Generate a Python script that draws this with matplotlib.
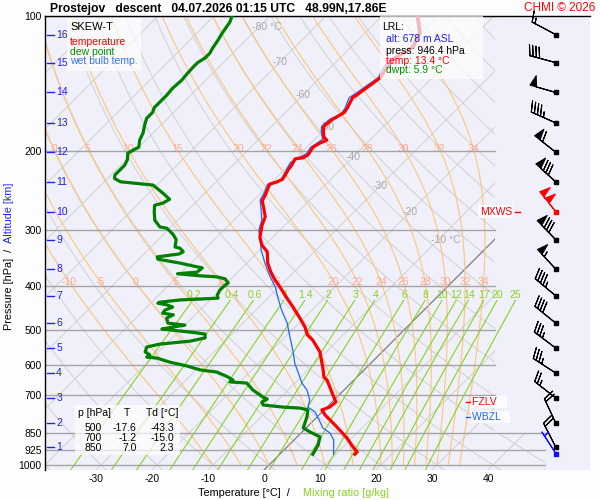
import numpy as np
import matplotlib
matplotlib.use("Agg")
import matplotlib.pyplot as plt
import matplotlib.transforms as mtransforms
from matplotlib.patches import Rectangle, Polygon

plt.rcParams['font.family'] = ['Liberation Sans', 'DejaVu Sans']

# ---- sounding ----
temp_p = [100, 109, 117, 121, 125, 132, 137, 141, 145, 150, 152, 160, 164, 166, 170, 176, 179,
          186, 189, 192, 196, 204, 207, 208, 215, 220, 226, 231, 234, 237, 242, 250, 258, 266,
          280, 292, 311, 324, 335, 355, 372, 387, 403, 425, 445, 471, 493, 513, 527, 560, 593,
          605, 637, 647, 691, 724, 743, 754, 774, 806, 836, 871, 912, 935, 946.4]
temp_t = [-53.6, -50.2, -48.9, -49.6, -50.2, -49.8, -49.3, -49.6, -50.0, -50.4, -50.7, -49.8,
          -49.5, -49.8, -50.4, -50.7, -50.2, -48.8, -47.7, -48.4, -48.9, -48.4, -48.8, -50.0,
          -49.5, -49.3, -48.9, -48.6, -49.1, -50.0, -49.6, -48.9, -48.4, -47.1, -45.0, -44.1,
          -42.3, -40.5, -38.4, -36.3, -34.1, -32.0, -29.6, -26.6, -23.9, -20.7, -18.2, -16.4,
          -14.5, -11.1, -8.75, -7.9, -5.9, -4.8, -1.6, 0.7, 0.5, -0.4, 1.1, 3.9, 6.4, 9.1,
          11.8, 13.4, 13.4]

wb_p = [100, 109, 117, 121, 125, 132, 137, 142, 145, 149, 152, 160, 165, 170, 176, 181, 188,
        192, 196, 203, 206, 212, 220, 232, 237, 247, 257, 270, 285, 300, 315, 332, 355, 381,
        401, 423, 452, 483, 519, 555, 593, 637, 657, 681, 717, 743, 762, 786, 827, 849, 880,
        946.4]
wb_t = [-53.9, -50.5, -49.3, -50.0, -50.7, -50.4, -49.6, -50.2, -50.5, -50.9, -51.3, -50.2,
        -49.8, -50.9, -51.1, -50.2, -48.6, -48.9, -49.3, -48.9, -49.5, -50.2, -49.6, -48.8,
        -50.4, -49.5, -48.9, -47.0, -45.0, -43.75, -41.8, -39.8, -36.8, -33.4, -30.7, -28.4,
        -25.4, -22.1, -19.1, -16.25, -13.6, -10.2, -8.75, -6.6, -4.3, -3.4, -1.25, 0.4, 3.0,
        5.2, 7.1, 9.6]

dp_p = [100, 103, 109, 113, 118, 121, 124, 127, 130, 134, 139, 145, 150, 155, 160, 164, 169,
        175, 182, 189, 196, 199, 202, 209, 215, 220, 226, 230, 234, 236, 238, 248, 256, 261,
        264, 273, 285, 295, 297, 307, 315, 327, 329, 335, 339, 341, 344, 348, 355, 362, 364,
        372, 375, 379, 381, 385, 393, 401, 408, 418, 425, 427, 429, 434, 436, 440, 445, 452,
        459, 463, 471, 483, 488, 493, 498, 503, 508, 511, 521, 530, 538, 546, 560, 569, 575,
        578, 590, 602, 614, 621, 637, 647, 653, 657, 681, 691, 706, 713, 724, 735, 743, 747,
        754, 782, 827, 844, 866, 903, 946.4]
dp_t = [-86.8, -86.1, -85.5, -85.0, -84.5, -84.1, -84.1, -84.6, -84.6, -84.5, -84.3, -84.5,
        -84.3, -84.3, -84.3, -83.75, -83.75, -82.9, -81.8, -81.1, -80.0, -80.5, -80.9, -79.8,
        -79.3, -79.3, -79.3, -78.75, -77.1, -73.9, -70.7, -67.5, -65.2, -65.7, -66.8, -65.7,
        -64.1, -62.0, -60.5, -58.2, -56.8, -55.7, -54.6, -53.4, -53.75, -55.2, -57.1, -56.6,
        -52.0, -48.2, -47.1, -47.3, -50.5, -46.1, -42.9, -41.1, -39.8, -40.0, -40.0, -39.6,
        -38.9, -42.0, -45.4, -48.6, -48.75, -46.8, -45.4, -46.25, -46.1, -43.9, -44.5, -43.4,
        -40.0, -41.8, -43.4, -39.8, -36.4, -34.8, -34.1, -36.25, -41.1, -42.9, -42.3, -40.9,
        -41.1, -39.1, -36.1, -32.3, -29.3, -25.9, -23.0, -21.6, -21.8, -18.6, -16.25, -15.0,
        -13.2, -12.1, -12.5, -11.8, -7.9, -4.6, -2.9, -1.8, -0.5, 1.4, 4.1, 5.2, 5.9]

# altitude marks (km) and the wind at each of them
alt_km = list(range(1, 17))
alt_p = [912, 806, 709, 624, 549, 483, 420, 366, 315, 273, 234, 201, 173, 148, 127, 110]
wind_dir = [333, 335, 308, 303, 307, 309, 310, 317, 316, 321, 312, 308, 294, 286, 285, 298]
wind_kt = [20, 20, 25, 35, 35, 40, 45, 55, 80, 100, 80, 60, 45, 50, 40, 15]
mxws_km = 10
sfc_p, sfc_dir, sfc_kt = 946.4, 327, 5

lrl_alt, lrl_p, lrl_t, lrl_td = 678, 946.4, 13.4, 5.9
fzlv_p, wbzl_p = 724, 782

table_p = [500, 700, 850]
table_t = [-17.6, -1.2, 7.0]
table_td = [-43.3, -15.0, 2.3]

p_levels = [100, 200, 300, 400, 500, 600, 700, 850, 925, 1000]
t_ticks = [-30, -20, -10, 0, 10, 20, 30, 40]
iso_lab_t = [-80, -70, -60, -50, -40, -30, -20, -10]
iso_lab_p = [105.8, 126.6, 150, 177, 206, 239, 273, 315]
thw_lines = [-10, -5, 0, 5, 10, 15, 20, 22, 24, 26, 28, 30, 32, 34]
thw_lab_p = [198, 391]
mix_lines = [0.2, 0.4, 0.6, 1, 1.4, 2, 3, 4, 6, 8, 10, 12, 14, 17, 20, 25]
mix_top, mix_lab_p = 430, 418

station = 'Prostejov'
kind = 'descent'
when = '04.07.2026 01:15 UTC'
where = '48.99N,17.86E'

# ---- diagram geometry ----
P_REF, P_TOP = 1026.0, 100.0
SKEW = 195.0 / 5.6
X_MIN, X_MAX = -39.1, 58.2
X_DIAG, X_LOW = 41.25, 50.2

GRAY = '#d4d4d4'
ORANGE = '#ffc47c'
SALMON = '#ffa88c'
MIXG = '#86d41e'
BLUE = '#2020f0'


def sx(t, p):
    return np.asarray(t, float) + SKEW * np.log(P_REF / np.asarray(p, float))


def dtdlnp(T, p):
    es = 6.112 * np.exp(17.67 * (T - 273.15) / (T - 29.65))
    rs = 0.622 * es / (p - es)
    return (287.04 * T + 2.501e6 * rs) / (1005.7 + 2.501e6 ** 2 * rs * 0.622 / (287.04 * T ** 2))


def moist_adiabat(thw, p):
    lp = np.log(p)
    out = [thw + 273.15]
    for i in range(len(p) - 1):
        T, a, h = out[-1], lp[i], lp[i + 1] - lp[i]
        k1 = dtdlnp(T, np.exp(a))
        k2 = dtdlnp(T + h * k1 / 2, np.exp(a + h / 2))
        k3 = dtdlnp(T + h * k2 / 2, np.exp(a + h / 2))
        k4 = dtdlnp(T + h * k3, np.exp(a + h))
        out.append(T + h * (k1 + 2 * k2 + 2 * k3 + k4) / 6)
    return np.array(out) - 273.15


def mix_td(w, p):
    a = np.log(w * p / (622.0 + w) / 6.112)
    return 243.5 * a / (17.67 - a)


fig = plt.figure(figsize=(6, 5), dpi=100, facecolor='#fdfdfd')
ax = fig.add_axes([45 / 600, 30 / 500, 545 / 600, 454 / 500])
ax.set_facecolor('#f0f0fb')
ax.set_yscale('log')
ax.set_ylim(P_REF, P_TOP)
ax.set_xlim(X_MIN, X_MAX)
for s in ['bottom', 'right']:
    ax.spines[s].set_visible(False)
for s in ['top', 'left']:
    ax.spines[s].set_linewidth(1.0)

ax.yaxis.set_minor_locator(matplotlib.ticker.NullLocator())
ax.set_yticks(p_levels)
ax.set_yticklabels([str(p) for p in p_levels])
ax.set_xticks(t_ticks)
ax.set_xticklabels([str(t) for t in t_ticks])
ax.tick_params(axis='y', length=0, pad=2.5, labelsize=7.5)
ax.tick_params(axis='x', length=0, pad=3, labelsize=7.5)

clip = Polygon([(X_MIN, P_TOP), (X_DIAG, P_TOP), (X_DIAG, 850), (X_LOW, 850),
                (X_LOW, P_REF), (X_MIN, P_REF)], closed=True, transform=ax.transData,
               facecolor='none', edgecolor='none')

pp = np.geomspace(P_REF, P_TOP, 80)

# isotherms
for t in range(-160, 60, 10):
    ln, = ax.plot(sx([t, t], [P_REF, P_TOP]), [P_REF, P_TOP],
                  color='#6e6e6e' if t == 0 else GRAY, lw=0.8, zorder=1.2 if t == 0 else 1)
    ln.set_clip_path(clip)
for t, p in zip(iso_lab_t, iso_lab_p):
    lab = '%d °C' % t if t in (-80, -10) else '%d' % t
    x = sx(t, p) - (1.3 if '°' in lab else 0)
    ax.text(x, p, lab, color='#a8a8a8', fontsize=7.5, ha='left' if '°' in lab else 'center',
            va='center', zorder=1.5)

# dry adiabats
for th in range(-40, 200, 10):
    ln, = ax.plot(sx((th + 273.15) * (pp / 1000.0) ** 0.2857 - 273.15, pp), pp,
                  color=GRAY, lw=0.8, zorder=1)
    ln.set_clip_path(clip)

# saturated adiabats
pm = np.geomspace(1000, P_TOP, 160)
for thw in thw_lines:
    tm = moist_adiabat(thw, pm)
    ln, = ax.plot(sx(tm, pm), pm, color=ORANGE, lw=0.8, zorder=1.3)
    ln.set_clip_path(clip)
    for pl in thw_lab_p:
        x = np.interp(np.log(pl), np.log(pm[::-1]), sx(tm, pm)[::-1])
        if X_MIN + 0.8 < x < X_DIAG:
            ax.text(x, pl, '%d' % thw, color=SALMON, fontsize=7.5, ha='center',
                    va='center', zorder=1.6)

# mixing ratio lines
pw = np.geomspace(P_REF, mix_top, 30)
for w in mix_lines:
    ax.plot(sx(mix_td(w, pw), pw), pw, color=MIXG, lw=0.8, zorder=1.4)
    ax.text(sx(mix_td(w, mix_lab_p), mix_lab_p) - 0.5, mix_lab_p, '%g' % w, color=MIXG,
            fontsize=7.5, ha='center', va='center', zorder=1.6)

# pressure lines
for p in p_levels:
    xr = X_LOW if p >= 850 else X_DIAG
    ax.plot([X_MIN, xr], [p, p], color='#a4a4a4', lw=1.0, zorder=2)

# profiles
ax.plot(sx(wb_t, wb_p), wb_p, color='#1f66ff', lw=0.9, zorder=5)
ax.plot(sx(dp_t, dp_p), dp_p, color='#008000', lw=2.3, zorder=6, solid_joinstyle='round')
ax.plot(sx(temp_t, temp_p), temp_p, color='#ff0000', lw=2.3, zorder=7, solid_joinstyle='round')

# altitude scale
blend = mtransforms.blended_transform_factory(ax.transAxes, ax.transData)
for km, p in zip(alt_km, alt_p):
    ax.plot([0.004, 0.0165], [p, p], color=BLUE, lw=1.0, transform=blend, zorder=8)
    ax.text(0.0205, p, str(km), color=BLUE, fontsize=7.5, va='center', ha='left',
            transform=blend, zorder=8)

# winds
bx = (555.7 - 45) / 545
wd = np.radians(wind_dir)
u = -np.array(wind_kt) * np.sin(wd)
v = -np.array(wind_kt) * np.cos(wd)
blk = [i for i, k in enumerate(alt_km) if k != mxws_km]
mx = alt_km.index(mxws_km)
ax.barbs([bx] * len(blk), [alt_p[i] for i in blk], u[blk], v[blk], transform=blend,
         length=6.2, lw=0.8, color='black', zorder=8, clip_on=False)
ax.barbs([bx], [alt_p[mx]], [u[mx]], [v[mx]], transform=blend, length=6.2, lw=0.8,
         color='red', zorder=8, clip_on=False)
sd = np.radians(sfc_dir)
ax.barbs([bx], [sfc_p], [-sfc_kt * np.sin(sd)], [-sfc_kt * np.cos(sd)], transform=blend,
         length=6.2, lw=0.8, color='#1010ff', zorder=8, clip_on=False)
ax.plot([bx] * len(blk), [alt_p[i] for i in blk], 's', color='black', ms=2.6,
        transform=blend, zorder=9)
ax.plot([bx], [alt_p[mx]], 's', color='red', ms=2.6, transform=blend, zorder=9)
ax.plot([bx], [sfc_p], 's', color='#1010ff', ms=2.6, transform=blend, zorder=9)

# level markers
ax.plot([0.8624, 0.8716], [alt_p[mx]] * 2, color='red', lw=1.0, transform=blend, zorder=9)
ax.text(0.857, alt_p[mx], 'MXWS', color='red', fontsize=7.5, ha='right', va='center',
        transform=blend, zorder=9,
        bbox=dict(facecolor='white', edgecolor='none', alpha=0.85, pad=1.0))
for p, name, col in [(fzlv_p, 'FZLV', 'red'), (wbzl_p, 'WBZL', '#1f66ff')]:
    ax.plot([0.7725, 0.7817], [p, p], color=col, lw=1.0, transform=blend, zorder=9)
    ax.text(0.7835, p, name + '   ', color=col, fontsize=7.5, ha='left', va='center',
            transform=blend, zorder=9,
            bbox=dict(facecolor='white', edgecolor='none', alpha=0.85, pad=1.0))


# ---- boxes and texts in figure pixels ----
def fx(x):
    return x / 600.0


def fy(y):
    return 1 - y / 500.0


def box(x0, y0, x1, y1, alpha):
    fig.add_artist(Rectangle((fx(x0), fy(y1)), (x1 - x0) / 600.0, (y1 - y0) / 500.0,
                             transform=fig.transFigure, facecolor='white', edgecolor='none',
                             alpha=alpha, zorder=1))


box(67, 18, 141, 71, 0.7)
box(380, 16, 483, 79, 0.7)
box(75, 405, 180, 455, 0.7)

fig.text(fx(70), fy(27), 'SKEW-T', fontsize=8, va='center')
fig.text(fx(70), fy(42), 'temperature', fontsize=7.5, va='center', color='#ff0000')
fig.text(fx(70), fy(52), 'dew point', fontsize=7.5, va='center', color='#009000')
fig.text(fx(70), fy(61.5), 'wet bulb temp.', fontsize=7.5, va='center', color='#2f74ff')

fig.text(fx(382), fy(27), 'LRL:', fontsize=7.5, va='center')
fig.text(fx(386), fy(39.5), 'alt: %d m ASL' % lrl_alt, fontsize=7.5, va='center', color=BLUE)
fig.text(fx(386), fy(50.5), 'press: %.1f hPa' % lrl_p, fontsize=7.5, va='center')
fig.text(fx(386), fy(60.5), 'temp: %.1f °C' % lrl_t, fontsize=7.5, va='center', color='red')
fig.text(fx(386), fy(70), 'dwpt: %.1f °C' % lrl_td, fontsize=7.5, va='center',
         color='#009000')

fig.text(fx(78), fy(413), 'p [hPa]', fontsize=7.5, va='center')
fig.text(fx(127), fy(413), 'T', fontsize=7.5, va='center', ha='center')
fig.text(fx(146), fy(413), 'Td [°C]', fontsize=7.5, va='center')
for i, (p, t, td) in enumerate(zip(table_p, table_t, table_td)):
    y = fy(428 + 10 * i)
    fig.text(fx(101.7), y, '%d' % p, fontsize=7.5, va='center', ha='right')
    fig.text(fx(136.7), y, '%.1f' % t, fontsize=7.5, va='center', ha='right')
    fig.text(fx(174), y, '%.1f' % td, fontsize=7.5, va='center', ha='right')

fig.text(fx(50), fy(11.7), '%s   %s   %s   %s' % (station, kind, when, where),
         fontsize=8.7, fontweight='bold', va='baseline')
fig.text(fx(595.5), fy(11), 'CHMI © 2026', fontsize=8.5, color='red', ha='right',
         va='baseline')

fig.text(fx(9), fy(249), 'Pressure [hPa]  /', fontsize=7.8, rotation=90, ha='center',
         va='top')
fig.text(fx(9), fy(243), 'Altitude [km]', fontsize=7.8, rotation=90, ha='center',
         va='bottom', color=BLUE)
fig.text(fx(198), fy(492.5), 'Temperature [°C]  /', fontsize=7.8, va='center')
fig.text(fx(302.7), fy(492.5), 'Mixing ratio [g/kg]', fontsize=7.8, va='center', color=MIXG)

fig.savefig('out.png', dpi=100, facecolor=fig.get_facecolor())
